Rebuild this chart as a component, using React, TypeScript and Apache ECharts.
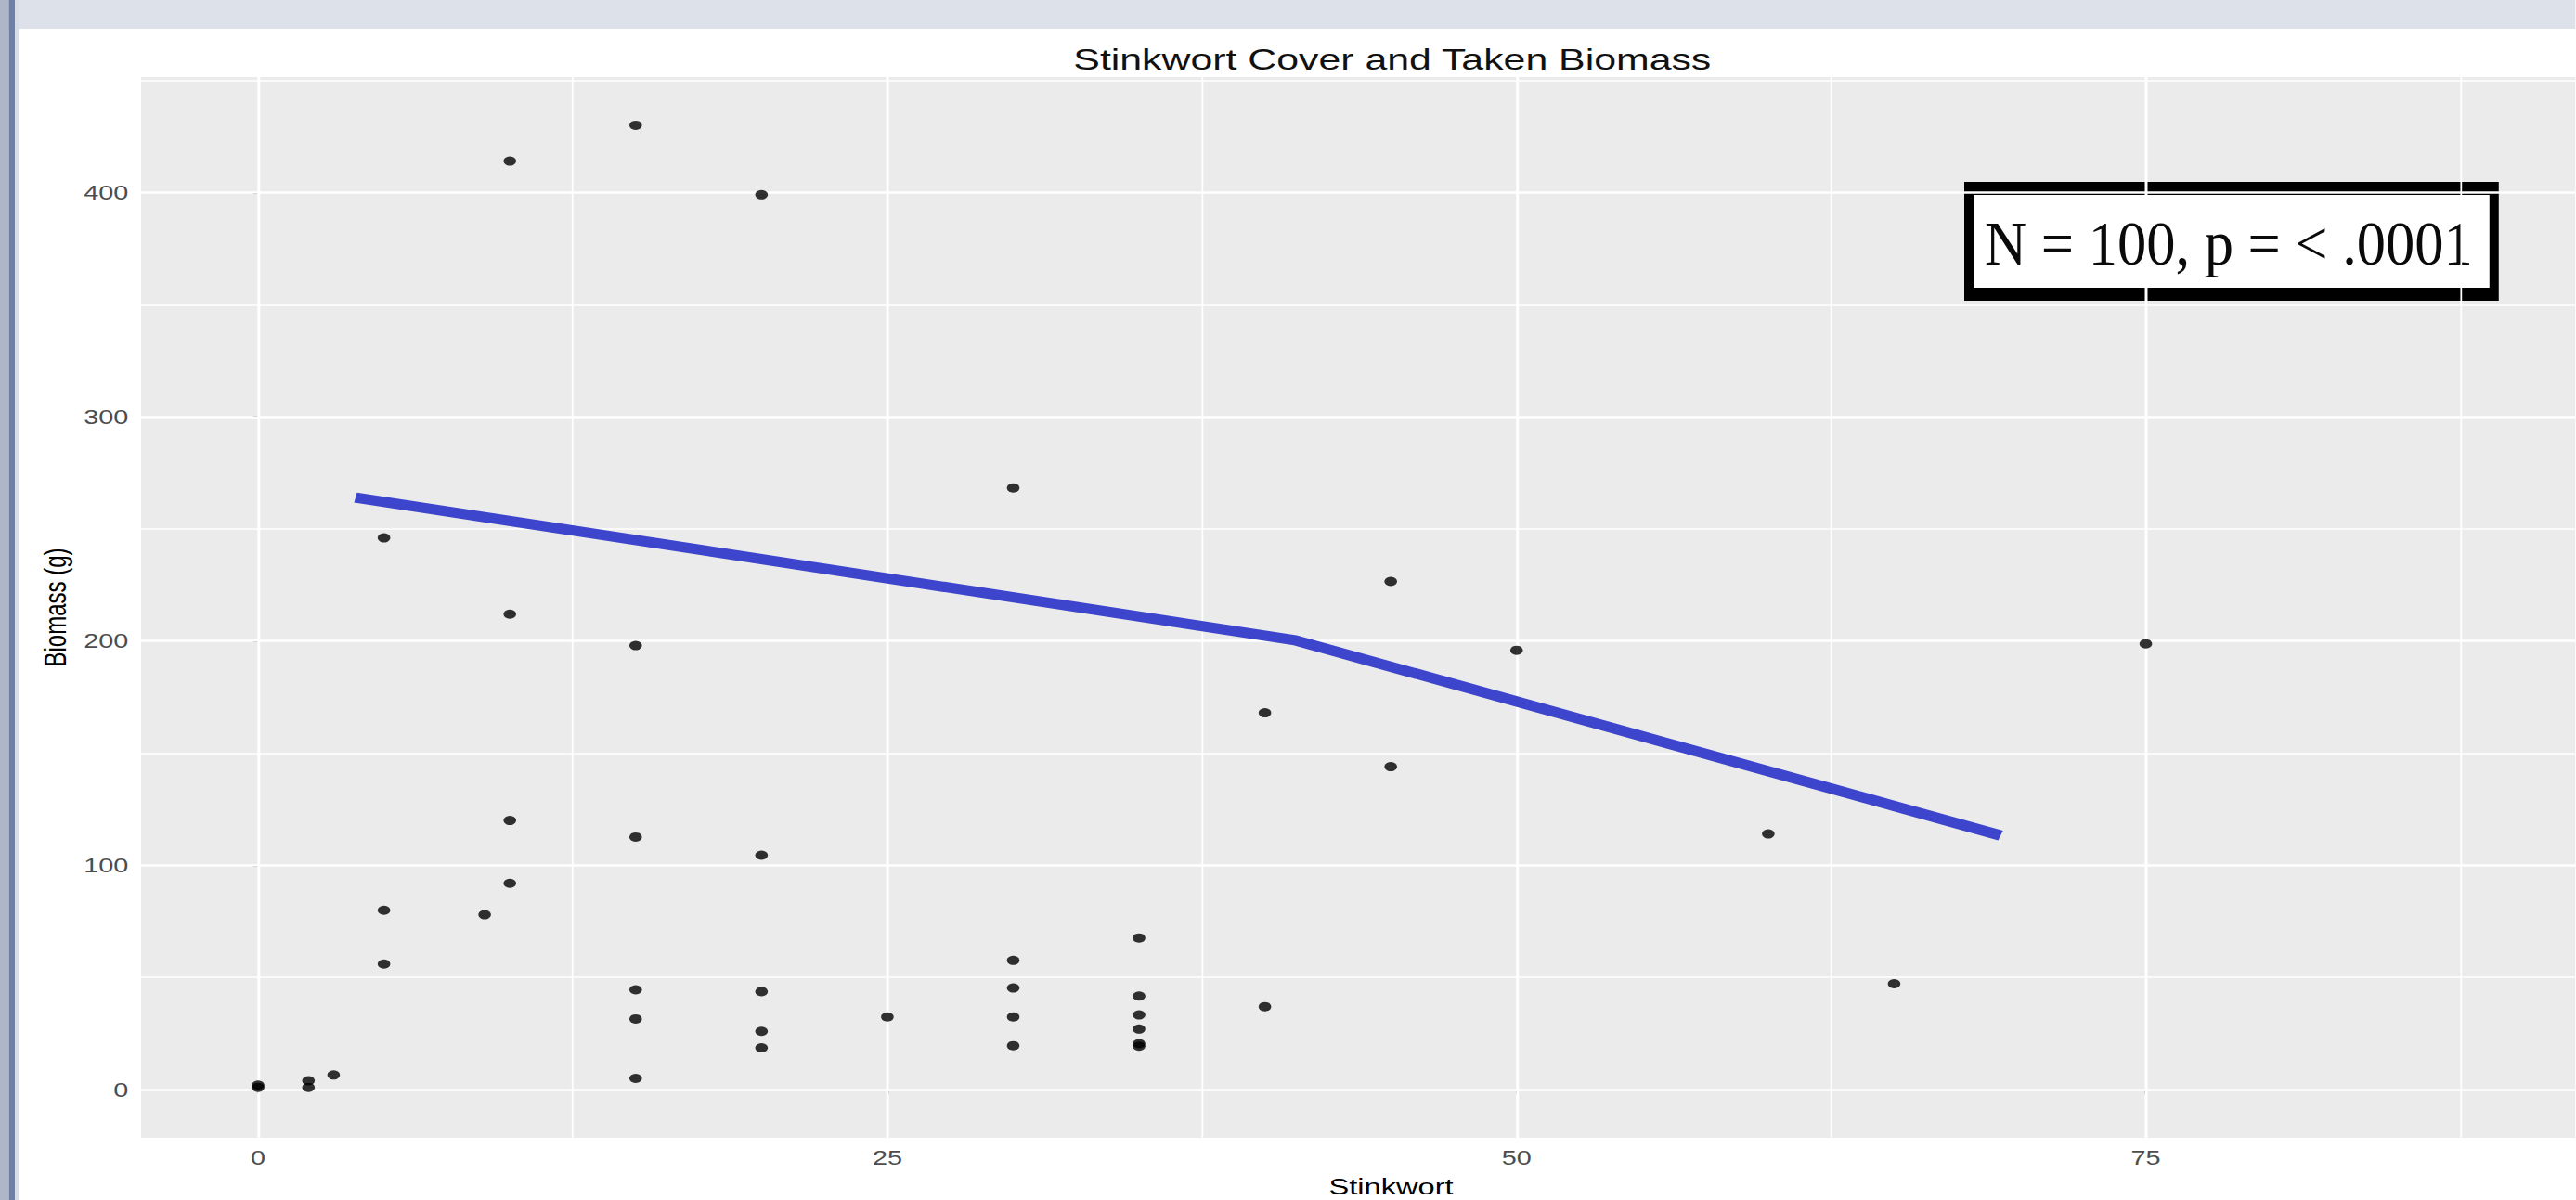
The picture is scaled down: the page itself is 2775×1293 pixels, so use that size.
import React, { useEffect, useRef } from "react";
import * as echarts from "echarts";

// ---- data ----
const ptX = [0, 0, 2, 2, 3, 5, 5, 5, 9, 10, 10, 10, 10, 15, 15, 15, 15, 15, 15, 20, 20, 20, 20, 20, 25, 30, 30, 30, 30, 30, 35, 35, 35, 35, 35, 35, 40, 40, 45, 45, 50, 60, 65, 75];
const ptY = [2, 1, 4, 1, 6.5, 246, 80, 56, 78, 414, 212, 120, 92, 430, 198, 112.6, 44.5, 31.5, 5, 399, 104.5, 43.7, 26, 18.6, 32.4, 268.3, 57.6, 45.3, 32.4, 19.6, 67.6, 41.7, 33.3, 27, 20.5, 19.4, 168, 37, 226.6, 144, 195.9, 114, 47.2, 198.8];

const fitX = [3.87, 41.2, 69.23];
const fitY = [264, 200.4, 113.3];

const xTicks = [0, 25, 50, 75];
const xMinor = [12.5, 37.5, 62.5, 87.5];
const yTicks = [0, 100, 200, 300, 400];
const yMinor = [50, 150, 250, 350, 450];

const TITLE = "Stinkwort Cover and Taken Biomass";
const X_NAME = "Stinkwort";
const Y_NAME = "Biomass (g)";
const NOTE = "N = 100, p = < .0001";

// ---- layout (the reference is a horizontally stretched screenshot) ----
const S = 1.36;
const FULL_W = 2775;
const FULL_H = 1293;
const W0 = FULL_W / S;
const u = (fx: number) => fx / S;
const SANS = '"Liberation Sans", Arial, sans-serif';

export default function App() {
  const ref = useRef<HTMLDivElement>(null);

  useEffect(() => {
    document.body.style.margin = "0";
    if (!ref.current) return;
    const chart = echarts.init(ref.current, undefined, { renderer: "svg" });

    const gridLines = [
      ...xTicks.map((v) => ({ xAxis: v, lineStyle: { width: 2.2 } })),
      ...xMinor.map((v) => ({ xAxis: v, lineStyle: { width: 1.3 } })),
      ...yTicks.map((v) => ({ yAxis: v, lineStyle: { width: 2.5 } })),
      ...yMinor.map((v) => ({ yAxis: v, lineStyle: { width: 1.5 } })),
    ];

    chart.setOption({
      animation: false,
      backgroundColor: "#ffffff",
      title: {
        text: TITLE,
        left: u(1493),
        top: 43,
        textAlign: "center",
        textStyle: { fontSize: 31.5, fontWeight: "normal", color: "#111", fontFamily: SANS },
      },
      grid: {
        left: u(152),
        right: 0,
        top: 83,
        bottom: 67,
        show: true,
        backgroundColor: "#EBEBEB",
        borderWidth: 0,
        containLabel: false,
        outerBoundsMode: "none",
      },
      xAxis: {
        type: "value",
        min: -4.65,
        max: 92.07,
        name: X_NAME,
        nameLocation: "middle",
        nameGap: 41,
        nameTextStyle: { fontSize: 24, color: "#000", fontFamily: SANS, padding: [0, 0, 0, 52] },
        axisLine: { show: false },
        axisTick: { show: true, length: 4.5, customValues: xTicks, lineStyle: { color: "#333", width: 1.1 } },
        axisLabel: { customValues: xTicks, margin: 11, fontSize: 21.2, color: "#4D4D4D", fontFamily: SANS },
        splitLine: { show: false },
      },
      yAxis: {
        type: "value",
        min: -21.5,
        max: 451.5,
        name: Y_NAME,
        nameLocation: "middle",
        nameRotate: 90,
        nameGap: 53,
        nameTextStyle: { fontSize: 24, color: "#000", fontFamily: SANS },
        axisLine: { show: false },
        axisTick: { show: true, length: 4, customValues: yTicks, lineStyle: { color: "#333", width: 1.5 } },
        axisLabel: { customValues: yTicks, margin: 10, fontSize: 21.2, color: "#4D4D4D", fontFamily: SANS },
        splitLine: { show: false },
      },
      graphic: [
        { type: "rect", shape: { x: 0, y: 0, width: W0, height: 31 }, style: { fill: "#DDE2EA" }, silent: true },
        { type: "rect", shape: { x: 0, y: 0, width: u(9.6), height: FULL_H }, style: { fill: "#AEB7C8" }, silent: true },
        { type: "rect", shape: { x: u(9.6), y: 0, width: u(6.4), height: FULL_H }, style: { fill: "#6E80A5" }, silent: true },
        { type: "rect", shape: { x: u(16), y: 0, width: u(4.7), height: FULL_H }, style: { fill: "#D8DEE7" }, silent: true },
        {
          type: "group",
          x: u(2116),
          y: 0,
          scaleX: 1 / S,
          z: 100,
          children: [
            { type: "rect", shape: { x: 0, y: 196, width: 576, height: 128 }, style: { fill: "#000" } },
            { type: "rect", shape: { x: 10, y: 210, width: 556, height: 100 }, style: { fill: "#fff" } },
            {
              type: "text",
              x: 22,
              y: 262,
              scaleX: 0.92,
              style: {
                text: NOTE,
                fontSize: 68,
                fontFamily: '"Liberation Serif", "Times New Roman", serif',
                fill: "#0a0a0a",
                textAlign: "left",
                textVerticalAlign: "middle",
                align: "left",
                verticalAlign: "middle",
              },
            },
          ],
        },
      ],
      series: [
        {
          type: "line",
          data: [],
          z: 1,
          silent: true,
          markLine: {
            z: 1,
            silent: true,
            symbol: ["none", "none"],
            label: { show: false },
            emphasis: { disabled: true },
            lineStyle: { color: "#FFFFFF", type: "solid", width: 2 },
            data: gridLines,
          },
        },
        {
          type: "scatter",
          z: 3,
          symbol: "circle",
          symbolSize: 10,
          itemStyle: { color: "#000" },
          data: ptX.map((x, i) => [x, ptY[i]]),
        },
        {
          type: "line",
          z: 4,
          showSymbol: false,
          symbol: "none",
          lineStyle: { color: "#3D45CD", width: 11, cap: "butt" },
          data: fitX.map((x, i) => [x, fitY[i]]),
        },
      ],
    });

    return () => chart.dispose();
  }, []);

  return (
    <div style={{ width: FULL_W, height: FULL_H, overflow: "hidden", background: "#fff" }}>
      <div
        ref={ref}
        style={{ width: W0, height: FULL_H, transform: `scaleX(${S})`, transformOrigin: "0 0" }}
      />
    </div>
  );
}
